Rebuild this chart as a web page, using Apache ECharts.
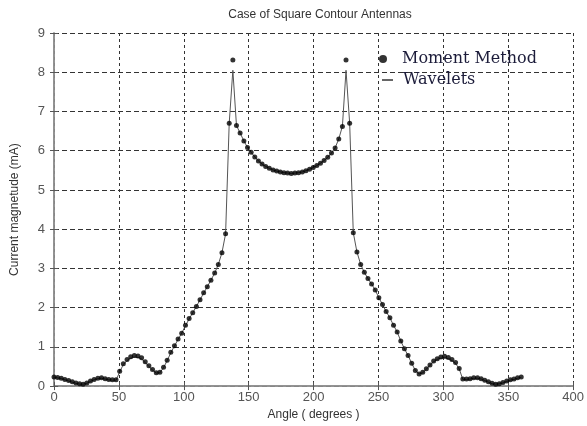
<!DOCTYPE html>
<html>
<head>
<meta charset="utf-8">
<script src="https://cdn.jsdelivr.net/npm/echarts@6/dist/echarts.min.js"></script>
<style>
html,body{margin:0;padding:0;background:#fff;}
#chart{width:587px;height:426px;}
</style>
</head>
<body>
<div id="chart"></div>
<script>
var angles = [0.0,2.8,5.6,8.4,11.3,14.1,16.9,19.7,22.5,25.3,28.1,30.9,33.8,36.6,39.4,42.2,45.0,47.8,50.6,53.4,
56.3,59.1,61.9,64.7,67.5,70.3,73.1,75.9,78.8,81.6,84.4,87.2,90.0,92.8,95.6,98.4,101.3,104.1,106.9,109.7,
112.5,115.3,118.1,120.9,123.8,126.6,129.4,132.2,135.0,137.8,140.6,143.4,146.3,149.1,151.9,154.7,157.5,160.3,163.1,165.9,
168.8,171.6,174.4,177.2,180.0,182.8,185.6,188.4,191.3,194.1,196.9,199.7,202.5,205.3,208.1,210.9,213.8,216.6,219.4,222.2,
225.0,227.8,230.6,233.4,236.3,239.1,241.9,244.7,247.5,250.3,253.1,255.9,258.8,261.6,264.4,267.2,270.0,272.8,275.6,278.4,
281.3,284.1,286.9,289.7,292.5,295.3,298.1,300.9,303.8,306.6,309.4,312.2,315.0,317.8,320.6,323.4,326.3,329.1,331.9,334.7,
337.5,340.3,343.1,345.9,348.8,351.6,354.4,357.2,360.0];

var momentMethod = [0.23,0.22,0.20,0.17,0.14,0.11,0.08,0.06,0.05,0.08,0.13,0.17,0.20,0.21,0.19,0.17,0.16,0.16,0.38,0.57,
0.68,0.75,0.78,0.77,0.72,0.62,0.52,0.42,0.34,0.35,0.48,0.66,0.86,1.03,1.20,1.35,1.55,1.72,1.87,2.03,
2.20,2.38,2.53,2.70,2.88,3.10,3.40,3.88,6.70,8.31,6.64,6.45,6.25,6.08,5.96,5.84,5.74,5.66,5.60,5.55,
5.51,5.48,5.46,5.44,5.43,5.42,5.43,5.44,5.46,5.49,5.53,5.57,5.62,5.68,5.75,5.83,5.94,6.07,6.30,6.62,
8.31,6.70,3.91,3.42,3.10,2.90,2.74,2.60,2.45,2.25,2.08,1.90,1.74,1.55,1.38,1.15,0.95,0.78,0.58,0.40,
0.31,0.35,0.44,0.54,0.64,0.70,0.74,0.76,0.73,0.68,0.60,0.45,0.18,0.18,0.19,0.21,0.21,0.19,0.15,0.11,
0.07,0.05,0.06,0.09,0.13,0.16,0.18,0.21,0.23];

var wavelets = [0.22,0.21,0.19,0.16,0.13,0.10,0.07,0.05,0.05,0.07,0.12,0.16,0.19,0.20,0.18,0.16,0.15,0.15,0.36,0.55,
0.65,0.71,0.74,0.73,0.69,0.60,0.50,0.41,0.33,0.34,0.47,0.65,0.85,1.02,1.19,1.35,1.54,1.71,1.87,2.03,
2.20,2.37,2.53,2.70,2.88,3.10,3.40,3.88,6.70,8.05,6.64,6.45,6.25,6.08,5.96,5.84,5.74,5.66,5.60,5.55,
5.51,5.48,5.46,5.44,5.43,5.42,5.43,5.44,5.46,5.49,5.53,5.57,5.62,5.68,5.75,5.83,5.94,6.07,6.30,6.62,
8.05,6.70,3.91,3.42,3.10,2.90,2.74,2.60,2.45,2.25,2.08,1.90,1.74,1.55,1.38,1.15,0.95,0.78,0.58,0.40,
0.31,0.34,0.43,0.53,0.62,0.68,0.71,0.72,0.70,0.65,0.58,0.44,0.17,0.17,0.18,0.20,0.20,0.18,0.14,0.10,
0.06,0.05,0.06,0.08,0.12,0.15,0.17,0.20,0.22];

var xTicks = [0,50,100,150,200,250,300,350,400];
var yTicks = [0,1,2,3,4,5,6,7,8,9];

var chart = echarts.init(document.getElementById('chart'));
var font = 'Liberation Sans, Arial, sans-serif';
var serif = 'DejaVu Serif, Liberation Serif, serif';
var boxLine = {show:true, lineStyle:{color:'#8c8c8c', width:1.5}};
var tick = {show:true, inside:true, length:4, lineStyle:{color:'#555', width:1}};

var mmData = angles.map(function(a,i){return [a, momentMethod[i]];});
var wvData = angles.map(function(a,i){return [a, wavelets[i]];});

chart.setOption({
  animation:false,
  backgroundColor:'#fff',
  title:{
    text:'Case of Square Contour Antennas',
    left:315, top:4, textAlign:'center',
    textStyle:{fontFamily:font, fontSize:12, fontWeight:'normal', color:'#333'}
  },
  legend:[
    {
      data:[{name:'Moment Method', icon:'circle'}],
      left:374, top:46, orient:'vertical',
      itemWidth:28, itemHeight:8,
      textStyle:{fontFamily:serif, fontSize:16, color:'#1c1c3a'}
    },
    {
      data:[{name:'Wavelets', icon:'rect'}],
      left:377, top:67, orient:'vertical',
      itemWidth:11, itemHeight:1.5,
      itemStyle:{color:'#333'},
      textStyle:{fontFamily:serif, fontSize:16, color:'#1c1c3a', padding:[0,0,0,5]}
    }
  ],
  grid:{left:54, right:8, top:33, bottom:37, containLabel:false},
  xAxis:[
    {
      type:'value', min:xTicks[0], max:xTicks[xTicks.length-1], interval:50,
      name:'Angle ( degrees )', nameLocation:'middle', nameGap:22,
      nameTextStyle:{fontFamily:font, fontSize:12, color:'#333'},
      axisLine:boxLine, axisTick:tick,
      axisLabel:{fontFamily:font, fontSize:13, color:'#555', margin:5},
      splitLine:{show:true, lineStyle:{color:'#333', width:1, type:[3,3]}}
    },
    {
      type:'value', position:'top', min:xTicks[0], max:xTicks[xTicks.length-1], interval:50,
      axisLine:boxLine, axisTick:tick, axisLabel:{show:false}, splitLine:{show:false}
    }
  ],
  yAxis:[
    {
      type:'value', min:yTicks[0], max:yTicks[yTicks.length-1], interval:1,
      name:'Current magnetude (mA)', nameLocation:'middle', nameGap:33,
      nameTextStyle:{fontFamily:font, fontSize:12, color:'#333'},
      axisLine:boxLine, axisTick:tick,
      axisLabel:{fontFamily:font, fontSize:13, color:'#555', margin:9},
      splitLine:{show:true, lineStyle:{color:'#333', width:1, type:[5,3]}}
    },
    {
      type:'value', position:'right', min:yTicks[0], max:yTicks[yTicks.length-1], interval:1,
      axisLine:boxLine, axisTick:tick, axisLabel:{show:false}, splitLine:{show:false}
    }
  ],
  series:[
    {
      name:'Wavelets', type:'line', data:wvData, showSymbol:false, symbol:'none',
      lineStyle:{color:'#555', width:1}, itemStyle:{color:'#333'}, z:2
    },
    {
      name:'Moment Method', type:'scatter', data:mmData, symbol:'circle', symbolSize:5,
      itemStyle:{color:'#000'}, z:3
    }
  ]
});
</script>
</body>
</html>
